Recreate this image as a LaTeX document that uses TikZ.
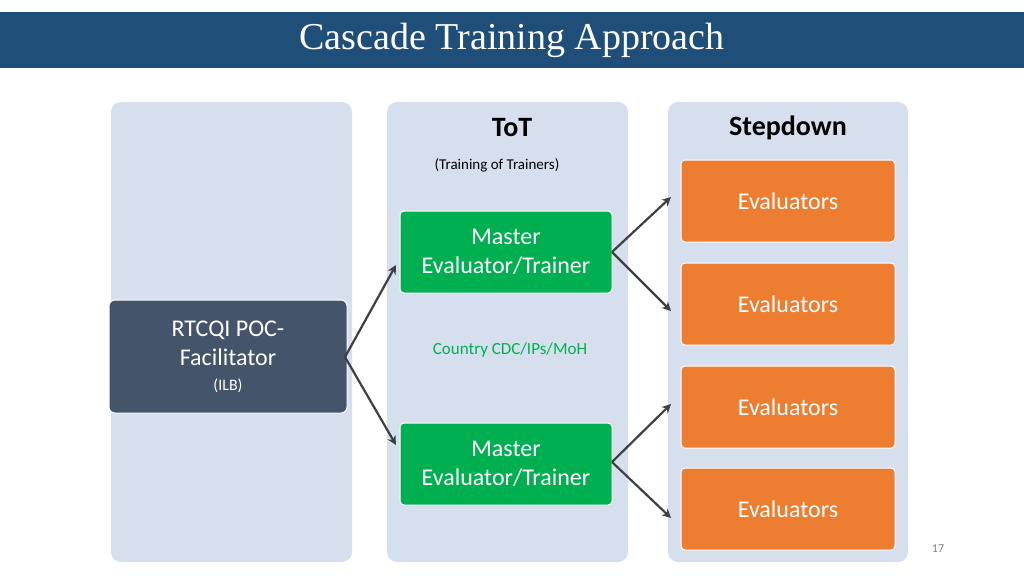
\documentclass[tikz,border=0pt]{standalone}
\usepackage{fontspec}
\setmainfont{Carlito}
\newfontfamily\titlefont{Liberation Serif}
\usetikzlibrary{arrows.meta}
\definecolor{hdr}{HTML}{1F4E79}
\definecolor{colbg}{HTML}{D6DFEE}
\definecolor{grn}{HTML}{00B050}
\definecolor{org}{HTML}{ED7D31}
\definecolor{slate}{HTML}{44546A}
\definecolor{arr}{HTML}{404040}
\begin{document}
\begin{tikzpicture}[x=1pt,y=-1pt,
  col/.style={fill=colbg,rounded corners=10pt,draw=none},
  gbox/.style={fill=grn,draw=white,line width=1pt,rounded corners=4pt,text=white,align=center,font=\fontsize{24}{29}\selectfont},
  obox/.style={fill=org,draw=white,line width=1pt,rounded corners=4pt,text=white,font=\fontsize{24}{29}\selectfont},
  conn/.style={draw=arr,line width=2.2pt,-{Stealth[length=9pt,width=9pt]}}]
\useasboundingbox (0,0) rectangle (1024,576);
\fill[white] (0,0) rectangle (1024,576);
\fill[hdr] (0,12) rectangle (1024,68);
\node[text=white,font=\titlefont\fontsize{38}{40}\selectfont] (title) at (512,40) {Cascade Training Approach};
\fill[col] (111,102) rectangle (352,562);
\fill[col] (387,102) rectangle (628,562);
\fill[col] (668,102) rectangle (908,562);
\node[font=\bfseries\fontsize{28}{32}\selectfont] (tot) at (512,128) {ToT};
\node[font=\fontsize{15}{18}\selectfont] (tott) at (497,165) {(Training of Trainers)};
\node[font=\bfseries\fontsize{28}{32}\selectfont] (sd) at (788,128) {Stepdown};
\path[gbox] (400,211) rectangle (612,293);
\node[text=white,align=center,font=\fontsize{24}{29}\selectfont] (m1) at (506,252) {Master\\Evaluator/Trainer};
\path[gbox] (400,423) rectangle (612,505);
\node[text=white,align=center,font=\fontsize{24}{29}\selectfont] (m2) at (506,464) {Master\\Evaluator/Trainer};
\foreach \t/\n in {160/e1,263/e2,366/e3,468/e4}{
  \path[obox] (681,\t) rectangle (895,\t+82);
  \node[text=white,font=\fontsize{24}{29}\selectfont] (\n) at (788,\t+41) {Evaluators};
}
\path[fill=slate,draw=white,line width=1pt,rounded corners=6pt] (109,300) rectangle (347,413);
\node[text=white,align=center,font=\fontsize{24}{29}\selectfont] (poc) at (228,357) {RTCQI POC-\\Facilitator\\[-4pt]{\fontsize{16}{19}\selectfont(ILB)}};
\node[text=grn,font=\fontsize{17}{20}\selectfont] (cty) at (510,350) {Country CDC/IPs/MoH};
\node[text=gray,font=\fontsize{12}{14}\selectfont] (pg) at (938,549) {17};
\coordinate (p0) at (345,357);
\coordinate (g1) at (612,252);
\coordinate (g2) at (612,462);
\draw[conn] (p0) -- (396,265);
\draw[conn] (p0) -- (396,445);
\draw[conn] (g1) -- (671,197);
\draw[conn] (g1) -- (671,311);
\draw[conn] (g2) -- (671,404);
\draw[conn] (g2) -- (671,518);
\end{tikzpicture}
\end{document}
